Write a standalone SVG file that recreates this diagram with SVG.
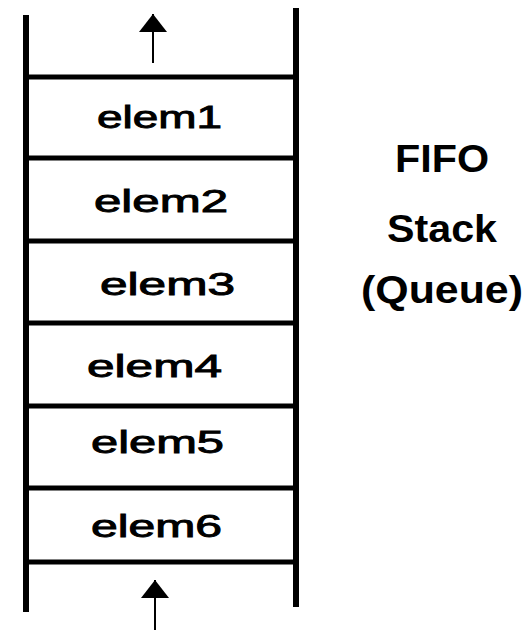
<svg xmlns="http://www.w3.org/2000/svg" width="532" height="630" viewBox="0 0 532 630">
<style>
  .wall { stroke: #000; stroke-width: 6; fill: none; }
  .sep { stroke: #000; stroke-width: 5; fill: none; }
  .shaft { stroke: #000; stroke-width: 2; fill: none; }
  .lbl { font-family: "Liberation Sans", Arial, sans-serif; font-size: 31px; fill: #000; stroke: #000; stroke-width: 0.9px; }
  .ttl { font-family: "Liberation Sans", Arial, sans-serif; font-size: 38px; font-weight: bold; fill: #000; }
</style>
<defs>
  <marker id="head" markerUnits="userSpaceOnUse" viewBox="0 0 18 28" markerWidth="18" markerHeight="28" refX="18" refY="14" orient="auto">
    <path d="M0,0 L18,14 L0,28 z" fill="#000"/>
  </marker>
</defs>
<rect width="532" height="630" fill="#fff"/>
<g id="walls">
  <line class="wall" x1="26" y1="15" x2="26" y2="612"/>
  <line class="wall" x1="296" y1="8" x2="296" y2="607"/>
</g>
<g id="separators">
  <line class="sep" x1="26" y1="77" x2="296" y2="77"/>
  <line class="sep" x1="26" y1="158" x2="296" y2="158"/>
  <line class="sep" x1="26" y1="241" x2="296" y2="241"/>
  <line class="sep" x1="26" y1="323" x2="296" y2="323"/>
  <line class="sep" x1="26" y1="406" x2="296" y2="406"/>
  <line class="sep" x1="26" y1="488" x2="296" y2="488"/>
  <line class="sep" x1="26" y1="562" x2="296" y2="562"/>
</g>
<g id="elem1"><text class="lbl" x="97" y="128" textLength="125" lengthAdjust="spacingAndGlyphs">elem1</text></g>
<g id="elem2"><text class="lbl" x="94" y="212" textLength="134" lengthAdjust="spacingAndGlyphs">elem2</text></g>
<g id="elem3"><text class="lbl" x="100" y="295" textLength="135" lengthAdjust="spacingAndGlyphs">elem3</text></g>
<g id="elem4"><text class="lbl" x="87" y="377" textLength="135" lengthAdjust="spacingAndGlyphs">elem4</text></g>
<g id="elem5"><text class="lbl" x="91" y="453" textLength="133" lengthAdjust="spacingAndGlyphs">elem5</text></g>
<g id="elem6"><text class="lbl" x="91" y="537" textLength="131" lengthAdjust="spacingAndGlyphs">elem6</text></g>
<g id="title">
  <text class="ttl" x="395" y="172" textLength="94" lengthAdjust="spacingAndGlyphs">FIFO</text>
  <text class="ttl" x="387" y="242" textLength="110" lengthAdjust="spacingAndGlyphs">Stack</text>
  <text class="ttl" x="361" y="303" textLength="162" lengthAdjust="spacingAndGlyphs">(Queue)</text>
</g>
<g id="connectors">
  <line class="shaft" x1="153" y1="63" x2="153" y2="14" marker-end="url(#head)"/>
  <line class="shaft" x1="155" y1="630" x2="155" y2="580" stroke-width="3" marker-end="url(#head)"/>
</g>
</svg>
